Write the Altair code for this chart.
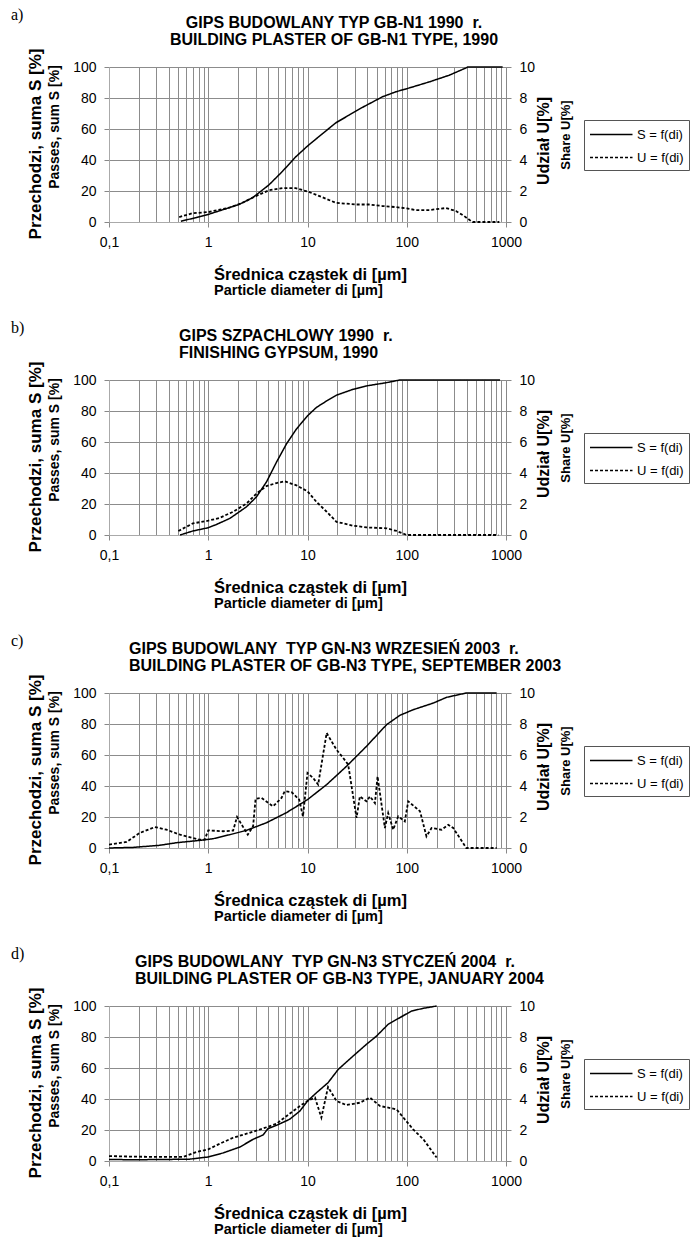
import altair as alt
import pandas as pd

FONT = "Liberation Sans Narrow, Arial Narrow, Liberation Sans, Arial, sans-serif"
SERIF = "Liberation Serif, Times New Roman, serif"

# ---------------- data ----------------
grid_d = [0.1, 0.2, 0.3, 0.4, 0.5, 0.6, 0.7, 0.8, 0.9,
          1, 2, 3, 4, 5, 6, 7, 8, 9,
          10, 20, 30, 40, 50, 60, 70, 80, 90,
          100, 200, 300, 400, 500, 600, 700, 800, 900, 1000]
left_ticks = [0, 20, 40, 60, 80, 100]
right_ticks = [0, 2, 4, 6, 8, 10]
series_names = ["S = f(di)", "U = f(di)"]

# panel a
a_S_d = [0.53, 0.75, 1.0, 1.62, 2.04, 2.79, 4.1, 5.6, 7.6, 10, 12.1, 19.3, 26.3, 35.9, 57, 77.6, 100, 169, 268, 395, 410, 925]
a_S = [0.5, 2.8, 4.9, 9.2, 11.3, 15.6, 24, 32.7, 42, 49, 53.4, 64, 69, 74, 80.8, 84, 86, 90.4, 94.7, 99.4, 100, 100]
a_U_d = [0.51, 0.69, 1.0, 1.62, 2.21, 3.0, 4.1, 5.6, 7.6, 10, 12.1, 19.3, 30.7, 41.7, 57, 77.6, 100, 123, 169, 248, 313, 380, 444, 460, 857]
a_U = [0.32, 0.56, 0.64, 0.92, 1.24, 1.67, 2.05, 2.18, 2.18, 1.97, 1.77, 1.24, 1.13, 1.13, 1.03, 0.96, 0.88, 0.77, 0.77, 0.90, 0.71, 0.38, 0.06, 0, 0]

# panel b
b_S_d = [0.52, 0.70, 1.0, 1.21, 1.65, 2.43, 3.06, 3.86, 4.87, 6.14, 7.74, 10, 12.3, 15.6, 19.6, 28.8, 39.3, 62.7, 79, 85, 871]
b_S = [0, 2.6, 4.7, 6.8, 10.7, 18.2, 24.6, 34.2, 47, 58.8, 68.4, 76.9, 82.3, 86.5, 90.2, 94, 96.2, 98.3, 99.6, 100, 100]
b_U_d = [0.50, 0.70, 1.0, 1.31, 1.78, 2.43, 3.06, 3.86, 4.87, 5.9, 7.74, 10, 12.3, 15.6, 19.6, 28.8, 39.3, 62.7, 79, 100, 837]
b_U = [0.26, 0.75, 0.92, 1.11, 1.50, 2.03, 2.67, 3.16, 3.35, 3.46, 3.20, 2.82, 2.14, 1.50, 0.85, 0.60, 0.49, 0.43, 0.26, 0, 0]

# panel c
c_S_d = [0.1, 0.175, 0.32, 0.48, 0.82, 1.12, 1.65, 2.43, 3.86, 6.14, 10, 15.6, 24.7, 39.3, 62.7, 85.3, 116, 185, 252, 398, 805]
c_S = [0, 0.4, 1.7, 3.4, 4.9, 6.0, 8.6, 11.4, 16.3, 22.8, 31.2, 40.9, 52.7, 65.6, 79.6, 85.6, 89.2, 93.5, 97.2, 100, 100]
c_U_d = [0.1, 0.15, 0.204, 0.29, 0.38, 0.52, 0.82, 0.92, 1.0, 1.41, 1.78, 1.95, 2.5, 2.83, 3.0, 3.44, 4.5, 5.47, 5.9, 6.9,
         8.25, 9.0, 10, 11.4, 12.8, 15.6, 19.6, 22.9, 25.7, 31.2, 33.7, 39.3, 42.6, 47.8, 50.8, 60.2, 65, 73, 82, 95.6,
         103.5, 136, 158, 178, 224, 262, 294, 398, 805]
c_U = [0.22, 0.39, 0.97, 1.35, 1.18, 0.86, 0.54, 0.54, 1.14, 1.08, 1.12, 2.0, 0.86, 1.4, 3.18, 3.23, 2.69, 3.23, 3.66, 3.61,
       3.12, 2.04, 4.84, 4.52, 4.09, 7.42, 6.34, 5.81, 5.38, 1.94, 3.33, 3.01, 3.33, 2.9, 4.62, 1.29, 2.26, 1.18, 2.04, 1.72,
       3.01, 2.37, 0.75, 1.29, 1.18, 1.5, 1.29, 0, 0]

# panel d
d_S_d = [0.1, 0.175, 0.38, 0.65, 1.0, 1.41, 2.08, 2.83, 3.57, 4.0, 4.87, 6.6, 8.4, 10, 12.3, 16.1, 20.4, 28.8, 39.3, 49.6, 65, 85.3, 112, 147, 200]
d_S = [1.0, 0.8, 1.0, 1.2, 2.6, 5.2, 9.0, 14, 16.8, 20.9, 23, 26.9, 32.3, 38.7, 44, 50.5, 59.1, 67.7, 75.3, 80.6, 88.2, 92.5, 96.8, 98.5, 100]
d_U_d = [0.1, 0.175, 0.38, 0.56, 0.76, 1.0, 1.31, 1.78, 2.43, 3.57, 4.87, 6.6, 8.4, 10, 11.9, 13.8, 16.1, 19.6, 24.7, 33.7, 42.6, 53.6, 79, 116, 147, 200]
d_U = [0.32, 0.28, 0.26, 0.26, 0.58, 0.75, 1.12, 1.5, 1.76, 2.1, 2.4, 3.05, 3.55, 3.87, 4.09, 2.8, 4.77, 3.87, 3.61, 3.76, 4.09, 3.55, 3.33, 2.04, 1.4, 0.22]

NB = "\u00a0"
panels = [
    ("a)", [f"GIPS BUDOWLANY TYP GB-N1 1990 {NB}r.", "BUILDING PLASTER OF GB-N1 TYPE, 1990"], a_S_d, a_S, a_U_d, a_U),
    ("b)", [f"GIPS SZPACHLOWY 1990 {NB}r.", "FINISHING GYPSUM, 1990"], b_S_d, b_S, b_U_d, b_U),
    ("c)", [f"GIPS BUDOWLANY {NB}TYP GN-N3 WRZESIEŃ 2003 {NB}r.", "BUILDING PLASTER OF GB-N3 TYPE, SEPTEMBER 2003"], c_S_d, c_S, c_U_d, c_U),
    ("d)", [f"GIPS BUDOWLANY {NB}TYP GN-N3 STYCZEŃ 2004 {NB}r.", "BUILDING PLASTER OF GB-N3 TYPE, JANUARY 2004"], d_S_d, d_S, d_U_d, d_U),
]
# layout per panel: (tag x offset, title align, title x)
layout = [(-98, "center", 225), (-98, "left", 70), (-98, "left", 20), (-98, "left", 26)]

W, H = 397, 155
DEC = "abs(log(datum.value)/LN10 - round(log(datum.value)/LN10)) < 0.001"


def txt(s, x, y, size, bold=True, angle=0, align="center", font=FONT):
    return alt.Chart(pd.DataFrame({"t": [s]})).mark_text(
        text=s, fontSize=size, fontWeight="bold" if bold else "normal", font=font,
        angle=angle, align=align, baseline="middle", color="black"
    ).encode(x=alt.value(x), y=alt.value(y))


def panel(tag, titles, Sd, Sv, Ud, Uv, lay):
    tag_x, talign, tx = lay
    s_df = pd.DataFrame({"d": Sd, "v": Sv, "series": series_names[0]})
    u_df = pd.DataFrame({"d": Ud, "v": Uv, "series": series_names[1]})
    xaxis = alt.Axis(
        values=grid_d, grid=True, gridColor="#8c8c8c", gridWidth=1,
        labelExpr=f"{DEC} ? replace(toString(datum.value), '.', ',') : ''",
        labelFont=FONT, labelFontSize=14, labelColor="black", labelPadding=8,
        labelOverlap=False, labelFlush=False, labelBound=False,
        tickSize=5, tickColor={"condition": {"test": DEC, "value": "#888888"}, "value": "rgba(0,0,0,0)"},
        domainColor="#aaaaaa", title=None,
    )
    xenc = alt.X("d:Q", scale=alt.Scale(type="log", domain=[0.1, 1000], nice=False), axis=xaxis)
    dash = alt.StrokeDash(
        "series:N",
        scale=alt.Scale(domain=series_names, range=[[1, 0], [3, 2]]),
        legend=alt.Legend(
            orient="none", legendX=475, legendY=53, title=None,
            strokeColor="#555555", fillColor="white", padding=5,
            symbolType="M-1,0H4", symbolSize=289, symbolStrokeWidth=1.5,
            symbolStrokeColor="black", labelFont=FONT, labelFontSize=13,
            labelColor="black", rowPadding=6, labelOffset=29, cornerRadius=0,
        ),
    )
    s_line = alt.Chart(s_df).mark_line(color="black", strokeWidth=1.5).encode(
        x=xenc,
        y=alt.Y("v:Q", scale=alt.Scale(domain=[0, 100], nice=False),
                axis=alt.Axis(orient="left", values=left_ticks, grid=True, gridColor="#8c8c8c",
                              domainColor="#aaaaaa", tickColor="#888888", tickSize=5, labelPadding=8,
                              labelFont=FONT, labelFontSize=14, labelColor="black", title=None)),
        strokeDash=dash,
    )
    u_line = alt.Chart(u_df).mark_line(color="black", strokeWidth=1.8).encode(
        x=xenc,
        y=alt.Y("v:Q", scale=alt.Scale(domain=[0, 10], nice=False),
                axis=alt.Axis(orient="right", values=right_ticks, grid=False,
                              domainColor="#888888", tickColor="#888888", tickSize=5, labelPadding=8,
                              labelFont=FONT, labelFontSize=14, labelColor="black", title=None)),
        strokeDash=dash,
    )
    texts = [
        txt(tag, tag_x, -52, 16, bold=False, align="left", font=SERIF),
        txt(titles[0], tx, -44, 16, align=talign),
        txt(titles[1], tx, -27, 16, align=talign),
        txt("Przechodzi, suma S [%]", -73, 77, 17, angle=270),
        txt("Passes, sum S [%]", -54, 60, 14, angle=270),
        txt("Udział U[%]", 435, 74, 16, angle=270),
        txt("Share U[%]", 457, 68, 13, angle=270),
        txt("Średnica cząstek di [µm]", 105, 208, 16.5, align="left"),
        txt("Particle diameter di [µm]", 105, 224, 14.5, align="left"),
    ]
    return alt.layer(s_line, u_line, *texts).resolve_scale(y="independent").properties(width=W, height=H)


charts = [panel(p[0], p[1], p[2], p[3], p[4], p[5], lay) for p, lay in zip(panels, layout)]

chart = alt.vconcat(*charts, spacing=22).resolve_scale(
    strokeDash="independent"
).resolve_legend(strokeDash="independent").properties(
    padding={"left": 11, "top": 7, "right": 0, "bottom": 0}
).configure_view(stroke=None)

chart.save("out.html", embed_options={"renderer": "svg", "actions": False})
